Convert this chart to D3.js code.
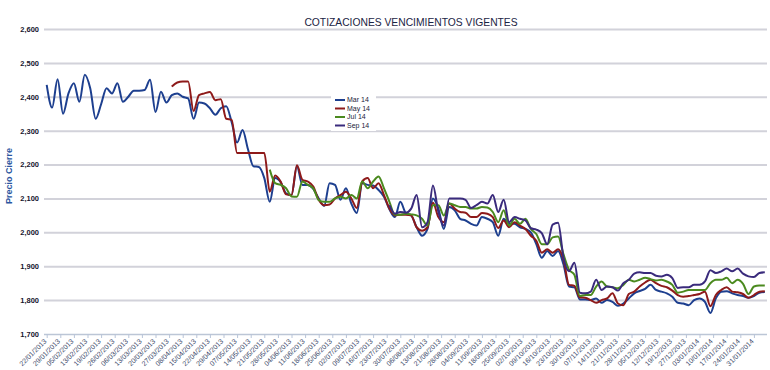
<!DOCTYPE html>
<html>
<head>
<meta charset="utf-8">
<title>Cotizaciones vencimientos vigentes</title>
<script src="https://d3js.org/d3.v7.min.js"></script>
<style>
  body { margin: 0; background: #fff; }
  svg { display: block; font-family: "Liberation Sans", Arial, sans-serif; }
</style>
</head>
<body>
<div id="chart"></div>
<script>
// x axis labels, one every 5 trading days
const labels = ["22/01/2013","29/01/2013","05/02/2013","13/02/2013","19/02/2013","26/02/2013","06/03/2013","13/03/2013",
  "20/03/2013","27/03/2013","08/04/2013","15/04/2013","22/04/2013","29/04/2013","07/05/2013","14/05/2013","21/05/2013",
  "28/05/2013","04/06/2013","11/06/2013","18/06/2013","25/06/2013","02/07/2013","09/07/2013","16/07/2013","23/07/2013",
  "30/07/2013","06/08/2013","13/08/2013","21/08/2013","28/08/2013","04/09/2013","11/09/2013","18/09/2013","25/09/2013",
  "02/10/2013","09/10/2013","16/10/2013","23/10/2013","30/10/2013","07/11/2013","14/11/2013","21/11/2013","28/11/2013",
  "05/12/2013","12/12/2013","19/12/2013","27/12/2013","03/01/2014","10/01/2014","17/01/2014","24/01/2014","31/01/2014"]

const yTicks = [1700, 1800, 1900, 2000, 2100, 2200, 2300, 2400, 2500, 2600]

const seriesNames = ["Mar 14", "May 14", "Jul 14", "Sep 14"]
const seriesColors = ["#1d3f8f", "#8e1a1a", "#4b8a1f", "#3a2b7c"]
// first trading day of each series (values are every 2 trading days)
const seriesStart = [0, 46, 82, 126]

const mar14 = [2435,2368,2452,2350,2410,2440,2385,2465,2425,2335,2378,2425,2410,2440,2385,2400,2418,2418,2420,2450,
  2355,2415,2383,2405,2410,2400,2395,2335,2383,2380,2366,2347,2366,2372,2325,2265,2302,2245,2195,2193,
  2160,2090,2160,2148,2115,2110,2195,2140,2140,2128,2100,2078,2145,2140,2096,2130,2085,2057,2145,2140,
  2138,2125,2105,2068,2045,2090,2057,2050,2015,1990,2010,2100,2070,2010,2075,2065,2040,2035,2025,2020,
  2045,2040,2030,1990,2040,2025,2025,2015,2010,2000,1965,1925,1945,1930,1945,1905,1840,1838,1802,1802,
  1800,1805,1792,1800,1795,1783,1790,1805,1820,1827,1833,1845,1830,1825,1820,1810,1792,1790,1785,1800,
  1805,1795,1762,1805,1825,1826,1820,1815,1812,1807,1812,1822,1824]

const may14 = [2430,2442,2445,2445,2358,2405,2410,2414,2390,2393,2335,2332,2234,2234,2234,2234,2234,2234,2120,2168,
  2150,2112,2110,2198,2155,2150,2135,2096,2080,2082,2100,2110,2120,2100,2072,2150,2160,2130,2145,2110,
  2070,2050,2052,2052,2050,2015,2005,2015,2087,2045,2030,2085,2070,2060,2058,2045,2045,2057,2055,2045,
  2013,2035,2015,2030,2020,2010,1990,1975,1940,1950,1940,1950,1920,1845,1842,1808,1807,1800,1792,1800,
  1805,1820,1790,1785,1818,1825,1840,1852,1860,1850,1842,1838,1828,1815,1810,1812,1815,1818,1825,1782,
  1815,1830,1838,1825,1823,1818,1807,1815,1825,1826]

const jul14 = [2185,2145,2140,2130,2106,2105,2150,2140,2130,2095,2090,2090,2100,2105,2100,2110,2100,2150,2130,2150,
  2165,2130,2090,2052,2052,2055,2053,2050,2040,2020,2080,2080,2050,2085,2080,2075,2075,2070,2070,2075,
  2073,2060,2030,2065,2020,2040,2025,2040,2010,1995,1965,1965,1985,1988,1935,1890,1875,1812,1815,1815,
  1840,1855,1840,1838,1835,1845,1860,1855,1860,1866,1862,1858,1860,1855,1845,1822,1825,1830,1830,1830,
  1830,1850,1860,1860,1866,1850,1860,1848,1818,1840,1843,1843]

const sep14 = [2080,2055,2060,2058,2070,2110,2015,2030,2138,2060,2020,2100,2100,2100,2096,2072,2080,2090,2085,2110,
  2060,2096,2030,2045,2040,2035,2012,2008,1998,1965,2023,2028,1925,1885,1910,1822,1820,1825,1860,1830,
  1840,1838,1828,1850,1860,1878,1882,1880,1880,1872,1870,1875,1865,1836,1838,1838,1845,1845,1855,1888,
  1880,1885,1893,1885,1893,1878,1870,1868,1880,1882]

const seriesValues = [mar14, may14, jul14, sep14]

const w = 770
const h = 370
const left = 44
const right = 767

const svg = d3.select("#chart")
  .append("svg")
  .attr("width", w)
  .attr("height", h)

const xScale = d3.scaleLinear()
  .domain([0, 264])
  .range([46.7, 764.8])

const yScale = d3.scaleLinear()
  .domain([1700, 2600])
  .range([334, 29])

// Title
svg.append("text")
  .attr("x", 411)
  .attr("y", 26)
  .attr("text-anchor", "middle")
  .attr("font-size", "10.3px")
  .attr("fill", "#1b2444")
  .text("COTIZACIONES VENCIMIENTOS VIGENTES")

// Y grid + labels
const yAxis = d3.axisLeft(yScale)
  .tickValues(yTicks)
  .tickSize(-(right - left))
  .tickPadding(5)
  .tickFormat(d3.format(","))

const gy = svg.append("g")
  .attr("transform", "translate(" + left + ",0)")
  .call(yAxis)
gy.select(".domain").remove()
gy.selectAll(".tick line")
  .attr("stroke", d => d === 1700 ? "#bcc6d6" : "#d2d2da")
  .attr("stroke-width", d => d === 1700 ? 1.5 : 2)
gy.selectAll(".tick text")
  .attr("font-size", "7.5px")
  .attr("font-weight", "bold")
  .attr("fill", "#15152e")
  .attr("font-family", "'Liberation Sans', Arial, sans-serif")

// Y title
svg.append("text")
  .attr("transform", "translate(12,176) rotate(-90)")
  .attr("text-anchor", "middle")
  .attr("font-size", "9px")
  .attr("font-weight", "bold")
  .attr("fill", "#2b56a0")
  .text("Precio Cierre")

// X axis
const xAxis = d3.axisBottom(xScale)
  .tickValues(labels.map((d, i) => i * 5))
  .tickSize(4)
  .tickFormat(d => labels[d / 5])

const gx = svg.append("g")
  .attr("transform", "translate(0,334)")
  .call(xAxis)
gx.select(".domain").remove()
gx.selectAll(".tick line").attr("stroke", "#b8c4d8")
gx.selectAll(".tick text")
  .attr("x", 0)
  .attr("y", 0)
  .attr("dy", "0.35em")
  .attr("transform", "translate(-2,6) rotate(-45)")
  .attr("text-anchor", "end")
  .attr("font-size", "7px")
  .attr("fill", "#3a4868")
  .attr("font-family", "'Liberation Sans', Arial, sans-serif")

// Lines
seriesValues.forEach((vals, s) => {
  const line = d3.line()
    .x((d, i) => xScale(seriesStart[s] + i * 2))
    .y(d => yScale(d))
    .curve(d3.curveMonotoneX)
  svg.append("path")
    .datum(vals)
    .attr("fill", "none")
    .attr("stroke", seriesColors[s])
    .attr("stroke-width", 2)
    .attr("stroke-linejoin", "round")
    .attr("d", line)
})

// Legend
const legend = svg.append("g").attr("transform", "translate(331,93)")
legend.append("rect")
  .attr("width", 45)
  .attr("height", 38)
  .attr("fill", "#fff")
seriesNames.forEach((name, i) => {
  const cy = 7 + i * 8.5
  legend.append("line")
    .attr("x1", 4).attr("x2", 14)
    .attr("y1", cy).attr("y2", cy)
    .attr("stroke", seriesColors[i])
    .attr("stroke-width", 2)
  legend.append("text")
    .attr("x", 16)
    .attr("y", cy + 2.4)
    .attr("font-size", "7px")
    .attr("fill", "#1a1a3a")
    .text(name)
})
</script>
</body>
</html>
